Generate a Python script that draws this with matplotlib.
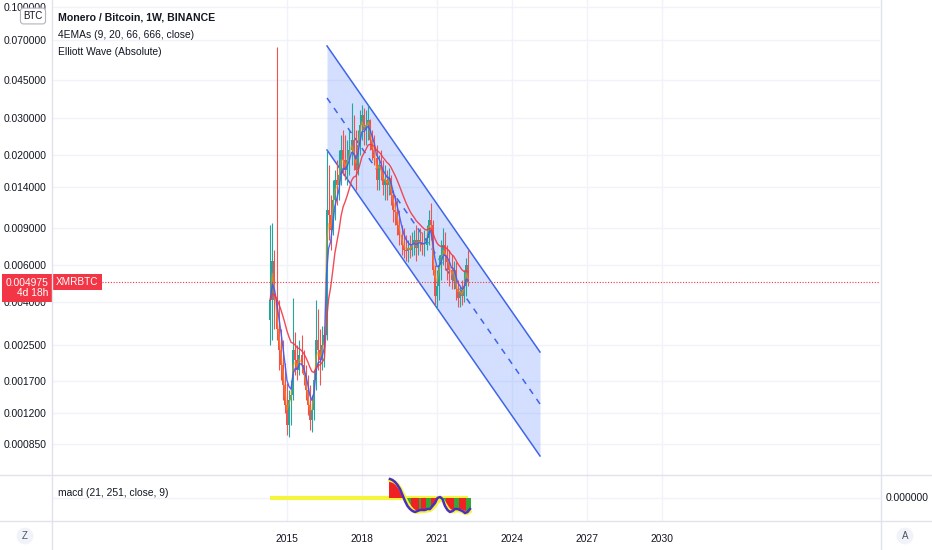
import numpy as np
import pandas as pd
import matplotlib
matplotlib.use("Agg")
import matplotlib.pyplot as plt
from matplotlib.lines import Line2D
from matplotlib.transforms import blended_transform_factory
from matplotlib.ticker import NullLocator

plt.rcParams["font.family"] = ["Liberation Sans", "DejaVu Sans"]

# monthly XMR/BTC candles, May 2014 .. Apr 2022
start_year = 2014.33
first_open = 0.0033
highs = [0.0093, 0.0095, 0.0071, 0.0649, 0.0041, 0.0030, 0.00265, 0.00206, 0.00166, 0.00154,
         0.00171, 0.0042, 0.0029, 0.0025, 0.00265, 0.0028, 0.00238, 0.00202, 0.00181, 0.00162,
         0.00146, 0.00191, 0.0041, 0.0037, 0.0030, 0.0031, 0.0031, 0.0211, 0.0179, 0.0129,
         0.0152, 0.0169, 0.0189, 0.0211, 0.0248, 0.0262, 0.0248, 0.0235, 0.0262, 0.0352,
         0.0309, 0.0262, 0.0262, 0.0326, 0.0343, 0.0332, 0.0326, 0.0343, 0.0297, 0.0262,
         0.0248, 0.0222, 0.0199, 0.0211, 0.0189, 0.0179, 0.0169, 0.0173, 0.0160, 0.0136,
         0.0129, 0.0122, 0.0110, 0.0093, 0.0090, 0.0083, 0.0079, 0.0083, 0.0086, 0.0088,
         0.0093, 0.0088, 0.0090, 0.0086, 0.0088, 0.0093, 0.0110, 0.0118, 0.0098, 0.0060,
         0.0057, 0.0067, 0.0079, 0.0090, 0.0086, 0.0075, 0.0071, 0.0067, 0.0063, 0.0062,
         0.0051, 0.0048, 0.0051, 0.0057, 0.0065, 0.0071]
lows = [0.0025, 0.00265, 0.0030, 0.00265, 0.00191, 0.00171, 0.00138, 0.00119, 0.00094, 0.00092,
        0.00105, 0.00138, 0.00181, 0.00171, 0.00181, 0.00185, 0.00162, 0.00138, 0.00117, 0.00099,
        0.00097, 0.00111, 0.00154, 0.00191, 0.00162, 0.00191, 0.00197, 0.00265, 0.0079, 0.0071,
        0.0083, 0.0098, 0.0116, 0.0122, 0.0144, 0.0160, 0.0152, 0.0144, 0.0160, 0.0179,
        0.0169, 0.0136, 0.0160, 0.0199, 0.0235, 0.0222, 0.0222, 0.0235, 0.0211, 0.0189,
        0.0179, 0.0136, 0.0136, 0.0152, 0.0129, 0.0122, 0.0122, 0.0129, 0.0116, 0.0096,
        0.0093, 0.0083, 0.0075, 0.0067, 0.0065, 0.0063, 0.0062, 0.0065, 0.0066, 0.0067,
        0.0063, 0.0067, 0.0070, 0.0067, 0.0066, 0.0071, 0.0075, 0.0079, 0.0054, 0.0039,
        0.0037, 0.0041, 0.0051, 0.0060, 0.0057, 0.0051, 0.0048, 0.0046, 0.0046, 0.0041,
        0.0038, 0.0038, 0.0039, 0.0040, 0.0043, 0.0048]
closes = [0.0041, 0.0063, 0.0041, 0.0030, 0.00238, 0.00202, 0.00162, 0.00131, 0.00105, 0.00138,
          0.00146, 0.00238, 0.00213, 0.00191, 0.00225, 0.00202, 0.00181, 0.00154, 0.00131, 0.00111,
          0.00123, 0.00171, 0.00265, 0.00238, 0.00213, 0.0025, 0.0028, 0.0110, 0.0104, 0.0088,
          0.0122, 0.0152, 0.0144, 0.0160, 0.0211, 0.0189, 0.0169, 0.0189, 0.0211, 0.0235,
          0.0199, 0.0169, 0.0222, 0.0277, 0.0309, 0.0262, 0.0277, 0.0292, 0.0235, 0.0211,
          0.0193, 0.0152, 0.0179, 0.0169, 0.0144, 0.0152, 0.0144, 0.0155, 0.0129, 0.0110,
          0.0107, 0.0093, 0.0083, 0.0075, 0.0071, 0.0070, 0.0072, 0.0071, 0.0075, 0.0079,
          0.0072, 0.0079, 0.0077, 0.0075, 0.0075, 0.0081, 0.0098, 0.0093, 0.0057, 0.0043,
          0.0048, 0.0060, 0.0067, 0.0075, 0.0067, 0.0062, 0.0057, 0.0051, 0.0057, 0.0046,
          0.0042, 0.0045, 0.0043, 0.0048, 0.0060, 0.004975]

ema_lengths = [9, 20, 66]          # weekly lengths of the EMAs that show
ema_colors = ["#ff9800", "#3d5afe", "#f23645"]
ema_alpha = [0.55, 0.9, 0.9]

# parallel channel drawn on the chart (years, prices)
chan_x = [2016.6, 2025.12]
chan_upper = [0.0656, 0.002324]
chan_mid = [0.03717, 0.001318]
chan_lower = [0.02107, 0.000747]

# macd pane (x1e-5 BTC), sampled every 0.1 yr
macd_start = 2019.12
macd_vals = [19, 18, 16, 13, 9, 3, -3, -8, -11, -13, -14, -13, -12, -12, -12, -11, -11,
             -8, -5, 0, 1, -1, -8, -12, -14, -13, -11, -11, -12, -13, -15, -14, -11]
macd_green = [0, 0, 0, 0, 0, 0, 0, 1, 1, 0, 0, 0, 1, 0, 0, 1, 1,
              0, 0, 0, 0, 1, 1, 0, 0, 0, 1, 1, 0, 0, 0, 1, 1]

price_ticks = [0.1, 0.07, 0.045, 0.03, 0.02, 0.014, 0.009, 0.006, 0.004,
               0.0025, 0.0017, 0.0012, 0.00085]
year_ticks = [2015, 2018, 2021, 2024, 2027, 2030]

# ---------------------------------------------------------------
W, H = 932, 550
UP, DOWN = "#26a69a", "#ef5350"
GRID = "#f0f3fa"
LINE = "#e0e3eb"
TXT = "#131722"
FS = 7.4

n = len(closes)
t = start_year + np.arange(n) / 12.0
closes = np.array(closes)
opens = np.concatenate([[first_open], closes[:-1]])

fig = plt.figure(figsize=(W / 100, H / 100), dpi=100)
ax = fig.add_axes([52 / W, 1 - 475 / H, 828 / W, 475 / H])
ax2 = fig.add_axes([52 / W, 1 - 521 / H, 828 / W, 46 / H])

XMIN, XMAX = 2005.6, 2038.72
for a in (ax, ax2):
    a.set_xlim(XMIN, XMAX)
    for s in a.spines.values():
        s.set_visible(False)
    a.set_xticks(year_ticks)
    a.grid(True, color=GRID, lw=1)
    a.set_axisbelow(True)

# main pane
ax.set_yscale("log")
ax.set_ylim(0.000607, 0.1083)
ax.yaxis.set_minor_locator(NullLocator())
ax.set_yticks(price_ticks)
ax.set_yticklabels([f"{p:.6f}" for p in price_ticks])
ax.tick_params(axis="y", length=0, pad=4, labelsize=FS, labelcolor=TXT)
ax.tick_params(axis="x", length=0, labelbottom=False)

# channel
ax.fill_between(chan_x, chan_lower, chan_upper, color="#2962ff", alpha=0.2, lw=0, zorder=1)
ax.plot(chan_x, chan_upper, color="#3f65e8", lw=1.1, zorder=2)
ax.plot(chan_x, chan_lower, color="#3f65e8", lw=1.1, zorder=2)
ax.plot(chan_x, chan_mid, color="#3f65e8", lw=1.1, ls=(0, (4, 4)), zorder=2)

# candles
colors = np.where(closes >= opens, UP, DOWN)
ax.vlines(t, lows, highs, colors=colors, lw=0.8, zorder=3)
ax.bar(t, np.abs(closes - opens), bottom=np.minimum(opens, closes), width=0.075,
       color=colors, lw=0, zorder=3)

# EMAs (weekly length turned into a monthly smoothing factor)
cs = pd.Series(closes)
for length, col, al in zip(ema_lengths, ema_colors, ema_alpha):
    alpha = 1 - (1 - 2 / (length + 1)) ** (52 / 12)
    ema = cs.ewm(alpha=alpha, adjust=False).mean()
    ax.plot(t, ema, color=col, lw=1.0, zorder=4, alpha=al)

# last price line + labels
last = closes[-1]
ax.axhline(last, color="#f23645", lw=0.8, ls=(0, (1, 1.5)), zorder=5)
tr = blended_transform_factory(fig.transFigure, ax.transData)
ax.annotate(f"{last:.6f}\n4d 18h", xy=(48 / W, last), xycoords=tr,
            xytext=(0, 3.2), textcoords="offset points", ha="right", va="top",
            ma="right", fontsize=FS, color="white", annotation_clip=False, zorder=10,
            linespacing=1.05, bbox=dict(boxstyle="square,pad=0.35", fc="#f23645", ec="none"))
ax.text(56 / W, last, "XMRBTC", transform=tr, ha="left", va="center", fontsize=7.2,
        color="white", clip_on=False, zorder=10,
        bbox=dict(boxstyle="square,pad=0.3", fc="#f23645", ec="none"))

# macd pane
ax2.set_ylim(-23, 23)
ax2.set_yticks([0])
ax2.tick_params(axis="y", length=0, labelleft=False)
ax2.tick_params(axis="x", length=0, pad=9, labelsize=FS, labelcolor=TXT)
ax2.set_xticklabels([str(y) for y in year_ticks])
mt = macd_start + 0.1 * np.arange(len(macd_vals))
mv = np.array(macd_vals, dtype=float)
ax2.plot([t[0], t[-1]], [0, 0], color="#f5f53d", lw=3, zorder=2, solid_capstyle="butt")
bar_cols = ["#3aa335" if g else "#ee2222" for g in macd_green]
ax2.bar(mt, mv, width=0.1, color=bar_cols, lw=0, zorder=3)
signal = pd.Series(mv).ewm(span=2.5, adjust=False).mean()
ax2.plot(mt, signal - 1.2, color="#f5f53d", lw=2.6, zorder=4)
ax2.plot(mt, mv, color="#4a2fc0", lw=1.8, zorder=5)
tr2 = blended_transform_factory(fig.transFigure, ax2.transData)
ax2.text(907 / W, 0, "0.000000", transform=tr2, ha="center", va="center",
         fontsize=FS, color=TXT, clip_on=False)

# pane separators
for xx in (52, 881):
    fig.add_artist(Line2D([xx / W, xx / W], [0, 1], color=LINE, lw=1))
for yy in (475, 521):
    fig.add_artist(Line2D([0, 1], [1 - yy / H, 1 - yy / H], color=LINE, lw=1))

# legend texts
fig.text(58 / W, 1 - 18 / H, "Monero / Bitcoin, 1W, BINANCE", fontsize=7.6,
         fontweight="bold", color=TXT, va="center")
fig.text(58 / W, 1 - 35 / H, "4EMAs (9, 20, 66, 666, close)", fontsize=7.4, color=TXT, va="center")
fig.text(58 / W, 1 - 52 / H, "Elliott Wave (Absolute)", fontsize=7.4, color=TXT, va="center")
fig.text(58 / W, 1 - 493 / H, "macd (21, 251, close, 9)", fontsize=7.4, color=TXT, va="center")

# small buttons
fig.text(33 / W, 1 - 16 / H, "BTC", fontsize=7, color=TXT, ha="center", va="center",
         bbox=dict(boxstyle="round,pad=0.3", fc="white", ec="#b2b5be", lw=0.8))
fig.text(25 / W, 1 - 536 / H, "Z", fontsize=7, color="#50535e", ha="center", va="center",
         bbox=dict(boxstyle="circle,pad=0.35", fc="#f0f3fa", ec="none"))
fig.text(905 / W, 1 - 536 / H, "A", fontsize=7, color="#50535e", ha="center", va="center",
         bbox=dict(boxstyle="circle,pad=0.35", fc="#f0f3fa", ec="none"))

fig.savefig("out.png", dpi=100)
